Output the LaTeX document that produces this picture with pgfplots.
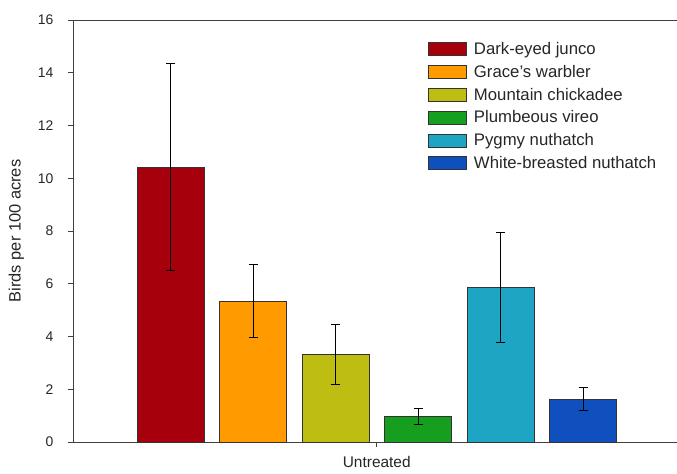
\documentclass[border=0pt]{standalone}
\usepackage{pgfplots}
\pgfplotsset{compat=1.18}
\usepackage{fontspec}
\setmainfont{Liberation Sans}
\definecolor{cJunco}{RGB}{165,0,12}
\definecolor{cGrace}{RGB}{255,154,0}
\definecolor{cChick}{RGB}{190,190,18}
\definecolor{cVireo}{RGB}{22,158,30}
\definecolor{cPygmy}{RGB}{30,165,195}
\definecolor{cWhite}{RGB}{16,80,190}
\pgfplotsset{birdbar/.style={ybar, bar width=67, bar shift=0pt, draw=black!80, line width=0.6pt, fill=#1}}
\begin{document}
\begin{tikzpicture}
\begin{axis}[
  scale only axis,
  width=604bp, height=422bp,
  xmin=-303.75, xmax=300.25,
  ymin=0, ymax=16,
  ytick={0,2,...,16},
  xtick={0}, xticklabels={Untreated},
  axis lines*=left,
  axis line style={draw=black!75, line width=0.8pt},
  tick align=outside,
  major tick length=5bp,
  tick style={draw=black!75, line width=0.6pt},
  /pgf/number format/assume math mode=true,
  ticklabel style={font=\fontsize{14}{16}\selectfont, text=black!85},
  yticklabel style={xshift=-11bp},
  xticklabel style={yshift=-6bp, font=\fontsize{15.5}{17}\selectfont},
  ylabel={Birds per 100 acres},
  every axis y label/.style={at={(ticklabel cs:0.5)}, rotate=90, anchor=near ticklabel,
     font=\fontsize{16.5}{18}\selectfont, text=black!85, yshift=7bp},
  legend image code/.code={\draw[#1, draw=black!80, line width=0.6pt] (0bp,-6.5bp) rectangle (38bp,6.5bp);},
  legend style={draw=none, fill=none, at={(rel axis cs:0.588,0.952)}, anchor=north west,
    font=\fontsize{16.8}{18}\selectfont, text=black!85, row sep=5.2bp, inner sep=0pt,
    nodes={inner xsep=7bp}},
  legend cell align=left,
  error bars/y dir=both, error bars/y explicit,
  error bars/error bar style={black, line width=0.9pt},
  error bars/error mark options={black, line width=0.9pt, mark size=4.5bp, rotate=90},
  clip=false,
]
\addplot[birdbar=cJunco] coordinates {(-206.25,10.43) +- (0,3.92)};
\addlegendentry{Dark-eyed junco}
\addplot[birdbar=cGrace] coordinates {(-123.75,5.35) +- (0,1.38)};
\addlegendentry{Grace's warbler}
\addplot[birdbar=cChick] coordinates {(-41.25,3.32) +- (0,1.15)};
\addlegendentry{Mountain chickadee}
\addplot[birdbar=cVireo] coordinates {(41.25,0.97) +- (0,0.29)};
\addlegendentry{Plumbeous vireo}
\addplot[birdbar=cPygmy] coordinates {(123.75,5.86) +- (0,2.07)};
\addlegendentry{Pygmy nuthatch}
\addplot[birdbar=cWhite] coordinates {(206.25,1.63) +- (0,0.45)};
\addlegendentry{White-breasted nuthatch}
\draw[black!75, line width=0.8pt] (rel axis cs:0,1) -- (rel axis cs:1,1);
\end{axis}
\pgfresetboundingbox
\path[use as bounding box] (-73bp,-32bp) rectangle (604bp,442bp);
\end{tikzpicture}
\end{document}
